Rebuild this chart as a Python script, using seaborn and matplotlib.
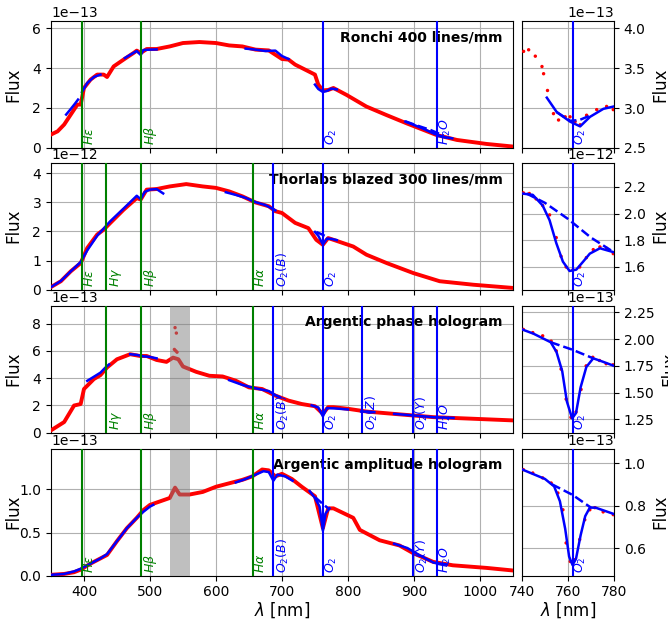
import numpy as np
import matplotlib
matplotlib.use("Agg")
import matplotlib.pyplot as plt
import matplotlib.transforms as mtransforms
import seaborn as sns

# line positions [nm] and their labels
line_nm = {'He': 397, 'Hg': 434, 'Hb': 486, 'Ha': 656, 'O2B': 687, 'O2': 762,
           'O2Z': 822, 'O2Y': 898, 'H2O': 935}
line_lbl = {'He': r'$H\varepsilon$', 'Hg': r'$H\gamma$', 'Hb': r'$H\beta$', 'Ha': r'$H\alpha$',
            'O2B': r'$O_2(B)$', 'O2': r'$O_2$', 'O2Z': r'$O_2(Z)$', 'O2Y': r'$O_2(Y)$', 'H2O': r'$H_2O$'}
line_col = {'He': 'green', 'Hg': 'green', 'Hb': 'green', 'Ha': 'green'}

titles = ['Ronchi 400 lines/mm', 'Thorlabs blazed 300 lines/mm',
          'Argentic phase hologram', 'Argentic amplitude hologram']
scales = [1e-13, 1e-12, 1e-13, 1e-13]
row_lines = [['He', 'Hb', 'O2', 'H2O'],
             ['He', 'Hg', 'Hb', 'Ha', 'O2B', 'O2'],
             ['Hg', 'Hb', 'Ha', 'O2B', 'O2', 'O2Z', 'O2Y', 'H2O'],
             ['He', 'Hb', 'Ha', 'O2B', 'O2', 'O2Y', 'H2O']]
grey_band = [None, None, (530, 560), (530, 560)]

# ---- Ronchi 400 (flux in 1e-13)
ron_lam = [350, 360, 370, 380, 390, 395, 400, 410, 420, 430, 435, 445, 460, 475, 480, 486, 495,
           510, 530, 550, 575, 600, 620, 640, 660, 680, 700, 710, 720, 735, 750, 755, 762, 770,
           778, 798, 828, 858, 889, 934, 965, 1010, 1050]
ron_flux = [0.67, 0.83, 1.17, 1.67, 2.17, 2.17, 3.0, 3.42, 3.67, 3.67, 3.55, 4.08, 4.42, 4.75,
            4.87, 4.75, 4.95, 4.95, 5.08, 5.25, 5.3, 5.25, 5.13, 5.08, 4.92, 4.88, 4.45, 4.42,
            4.17, 3.92, 3.67, 3.17, 2.88, 2.9, 3.0, 2.65, 2.07, 1.65, 1.23, 0.65, 0.4, 0.2, 0.07]
ron_fit = [([373, 380, 386, 391], [1.67, 1.95, 2.2, 2.42]),
           ([397, 405, 415, 425], [2.8, 3.25, 3.55, 3.67]),
           ([462, 472, 480, 486, 490, 500, 510], [4.5, 4.7, 4.85, 4.65, 4.9, 4.92, 4.93]),
           ([645, 660, 675, 690, 700, 710], [4.97, 4.92, 4.85, 4.87, 4.6, 4.45]),
           ([750, 755, 762, 768, 775, 783], [3.17, 2.95, 2.8, 2.85, 2.97, 2.93]),
           ([887, 900, 915, 930, 945, 958], [1.32, 1.15, 0.95, 0.72, 0.55, 0.48])]
ron_cont = [([887, 905, 925, 945], [1.33, 1.12, 0.9, 0.62])]
ron_zlam = [740.7, 742.9, 745.8, 748.7, 749.4, 751.1, 753.7, 755.9, 758.8, 760.9, 763.1, 765.3,
            768.1, 772.5, 776.8, 779.7]
ron_zflux = [3.71, 3.73, 3.65, 3.52, 3.43, 3.22, 2.93, 2.85, 2.89, 2.89, 2.83, 2.79, 2.91, 2.98,
             3.02, 2.98]
ron_zfit = ([750.8, 755.1, 760.9, 765.3, 769.6, 775.4, 780], [3.13, 2.95, 2.83, 2.77, 2.89, 2.99, 3.02])
ron_zcont = ([755, 761, 765, 770], [2.95, 2.84, 2.85, 2.91])

# ---- Thorlabs blazed 300 (flux in 1e-12)
tho_lam = [350, 365, 380, 395, 405, 420, 430, 440, 460, 480, 486, 495, 510, 530, 555, 580, 600,
           620, 640, 660, 680, 690, 700, 720, 740, 752, 762, 770, 778, 808, 828, 859, 899, 939,
           990, 1050]
tho_flux = [0.09, 0.29, 0.63, 0.91, 1.43, 1.89, 2.06, 2.29, 2.74, 3.14, 3.09, 3.43, 3.45, 3.54,
            3.62, 3.54, 3.49, 3.37, 3.2, 2.99, 2.86, 2.69, 2.63, 2.29, 2.11, 1.71, 1.54, 1.77,
            1.71, 1.48, 1.2, 0.91, 0.57, 0.29, 0.17, 0.06]
tho_fit = [([350, 365, 380, 395, 405, 420, 432, 440, 460, 480, 486, 492, 500, 510, 520],
            [0.09, 0.3, 0.63, 0.95, 1.35, 1.85, 2.15, 2.35, 2.78, 3.22, 3.1, 3.35, 3.43, 3.45, 3.3]),
           ([615, 630, 645, 660, 675, 690], [3.34, 3.25, 3.15, 3.0, 2.9, 2.72]),
           ([750, 755, 762, 768, 775, 783], [1.98, 1.85, 1.55, 1.75, 1.74, 1.7])]
tho_cont = [([752, 762, 770], [1.98, 1.88, 1.78])]
tho_zlam = [740.6, 743.2, 746.1, 749, 752, 754.9, 757, 759.2, 762.2, 765.1, 768, 771, 773.9,
            776.8, 779.7]
tho_zflux = [2.155, 2.15, 2.11, 2.06, 1.99, 1.82, 1.68, 1.6, 1.58, 1.6, 1.67, 1.73, 1.75, 1.74, 1.70]
tho_zfit = ([740, 744.7, 749, 752, 754.9, 757.8, 760.7, 763.6, 766.6, 769.5, 773.9, 780],
            [2.15, 2.14, 2.06, 1.95, 1.78, 1.64, 1.57, 1.58, 1.64, 1.7, 1.74, 1.71])
tho_zcont = ([742, 750, 760, 770, 780], [2.15, 2.08, 1.96, 1.82, 1.71])

# ---- Argentic phase hologram (flux in 1e-13)
pha_lam = [350, 370, 385, 395, 400, 415, 425, 435, 450, 470, 485, 495, 510, 525, 535, 543, 550,
           570, 590, 610, 630, 650, 670, 690, 710, 730, 750, 762, 770, 778, 800, 828, 869, 929,
           990, 1050]
pha_flux = [0.17, 0.78, 1.99, 2.1, 3.2, 3.93, 4.22, 4.78, 5.38, 5.75, 5.62, 5.62, 5.33, 5.19, 5.5,
            5.38, 4.85, 4.46, 4.17, 4.12, 3.81, 3.32, 3.2, 2.72, 2.35, 2.1, 1.94, 1.38, 1.87, 1.87,
            1.75, 1.55, 1.38, 1.14, 1.02, 0.9]
pha_spike_lam = [537, 538, 539, 540, 541]
pha_spike_flux = [6.1, 7.7, 6.0, 7.3, 5.9]
pha_fit = [([405, 415, 425, 432, 438], [3.8, 4.1, 4.4, 4.75, 5.0]),
           ([470, 480, 490, 500, 510], [5.75, 5.7, 5.6, 5.55, 5.45]),
           ([620, 640, 660, 680, 690, 697], [3.85, 3.5, 3.25, 3.05, 2.75, 2.6]),
           ([745, 755, 762, 768, 780, 800], [2.0, 1.85, 1.2, 1.8, 1.78, 1.7]),
           ([820, 830, 840], [1.55, 1.55, 1.5]),
           ([870, 890, 910, 930, 950, 960], [1.38, 1.3, 1.22, 1.13, 1.1, 1.08])]
pha_cont = []
pha_zlam = [740.6, 744.7, 749, 752.7, 754.9, 757, 759.2, 761.3, 763.5, 765.7, 767.9, 770.8, 773.7,
            776.6, 779.6]
pha_zflux = [2.09, 2.06, 2.03, 1.98, 1.89, 1.72, 1.44, 1.27, 1.32, 1.53, 1.75, 1.83, 1.80, 1.77, 1.76]
pha_zfit = ([740, 745, 752.5, 755, 757.5, 759.5, 761.8, 763.5, 765.5, 768, 771, 775, 780],
            [2.09, 2.05, 1.97, 1.88, 1.7, 1.42, 1.26, 1.31, 1.55, 1.74, 1.82, 1.79, 1.75])
pha_zcont = ([752.5, 762, 771], [1.97, 1.9, 1.82])

# ---- Argentic amplitude hologram (flux in 1e-13)
amp_lam = [350, 370, 385, 395, 410, 425, 435, 450, 465, 480, 490, 500, 515, 530, 538, 545, 560,
           580, 600, 620, 640, 655, 670, 680, 690, 700, 715, 730, 750, 762, 770, 778, 808, 818,
           848, 878, 899, 929, 959, 1010, 1050]
amp_flux = [0.01, 0.02, 0.04, 0.07, 0.14, 0.2, 0.24, 0.4, 0.55, 0.67, 0.76, 0.82, 0.86, 0.9, 1.02,
            0.94, 0.94, 0.97, 1.03, 1.07, 1.11, 1.15, 1.23, 1.22, 1.15, 1.18, 1.12, 1.03, 0.92,
            0.55, 0.78, 0.78, 0.67, 0.53, 0.41, 0.35, 0.26, 0.16, 0.12, 0.09, 0.06]
amp_fit = [([350, 370, 385, 395, 410, 425, 435, 450, 465, 480, 490, 500, 505],
            [0.01, 0.02, 0.05, 0.08, 0.14, 0.2, 0.25, 0.4, 0.55, 0.67, 0.74, 0.8, 0.82]),
           ([630, 645, 660, 672, 680, 687, 693, 705, 716],
            [1.08, 1.12, 1.17, 1.21, 1.2, 1.1, 1.17, 1.15, 1.1]),
           ([742, 750, 757, 762, 766, 772], [0.98, 0.9, 0.8, 0.52, 0.72, 0.78]),
           ([870, 890, 910, 930, 950], [0.37, 0.32, 0.23, 0.15, 0.13])]
amp_cont = [([750, 762, 770], [0.91, 0.83, 0.78])]
amp_zlam = [740.6, 744.7, 749, 752.7, 755.6, 757.8, 759.2, 761, 762.9, 765.1, 767.3, 769.5, 771.7,
            775.3, 779.7]
amp_zflux = [0.969, 0.953, 0.93, 0.906, 0.859, 0.78, 0.624, 0.537, 0.545, 0.64, 0.733, 0.78, 0.79,
             0.77, 0.757]
amp_zfit = ([740, 750, 754, 756.5, 758.8, 760.5, 762, 763.5, 765.5, 767.5, 769.5, 772, 780],
            [0.97, 0.925, 0.89, 0.82, 0.69, 0.56, 0.52, 0.55, 0.66, 0.75, 0.79, 0.79, 0.76])
amp_zcont = ([753, 762, 770], [0.9, 0.85, 0.79])

rows = [(ron_lam, ron_flux, ron_fit, ron_cont, ron_zlam, ron_zflux, ron_zfit, ron_zcont),
        (tho_lam, tho_flux, tho_fit, tho_cont, tho_zlam, tho_zflux, tho_zfit, tho_zcont),
        (pha_lam, pha_flux, pha_fit, pha_cont, pha_zlam, pha_zflux, pha_zfit, pha_zcont),
        (amp_lam, amp_flux, amp_fit, amp_cont, amp_zlam, amp_zflux, amp_zfit, amp_zcont)]

ylims = [(0, 6.35), (0, 4.35), (0, 9.3), (0, 1.47)]
yticks = [[0, 2, 4, 6], [0, 1, 2, 3, 4], [0, 2, 4, 6, 8], [0.0, 0.5, 1.0]]
zylims = [(2.5, 4.09), (1.43, 2.38), (1.127, 2.31), (0.47, 1.067)]
zyticks = [[2.5, 3.0, 3.5, 4.0], [1.6, 1.8, 2.0, 2.2], [1.25, 1.5, 1.75, 2.0, 2.25], [0.6, 0.8, 1.0]]

plt.rcParams['font.size'] = 10
fig = plt.figure(figsize=(6.68, 6.19), dpi=100)
tops = [0.966, 0.737, 0.506, 0.275]
h = 0.205

for i, (lam, flux, fits, conts, zlam, zflux, zfit, zcont) in enumerate(rows):
    s = scales[i]
    ax = fig.add_axes([0.0763, tops[i] - h, 0.6916, h])
    axz = fig.add_axes([0.7814, tops[i] - h, 0.1377, h])

    # left panel
    sns.lineplot(x=lam, y=np.array(flux) * s, ax=ax, color='red', lw=2.8, zorder=3)
    if i == 2:
        sns.scatterplot(x=pha_spike_lam, y=np.array(pha_spike_flux) * s, ax=ax, color='red',
                        s=6, edgecolor='none', zorder=3)
    for fl, ff in fits:
        sns.lineplot(x=fl, y=np.array(ff) * s, ax=ax, color='blue', lw=1.8, zorder=4)
    for cl, cf in conts:
        ax.plot(cl, np.array(cf) * s, color='blue', lw=1.8, ls='--', zorder=4)
    if grey_band[i] is not None:
        ax.axvspan(*grey_band[i], color='grey', alpha=0.5, lw=0, zorder=5)
    trans = mtransforms.blended_transform_factory(ax.transData, ax.transAxes)
    for key in row_lines[i]:
        c = line_col.get(key, 'blue')
        ax.axvline(line_nm[key], color=c, lw=1.5, zorder=4)
        ax.text(line_nm[key] + 2, 0.02, line_lbl[key], color=c, rotation=90, fontsize=9,
                ha='left', va='bottom', transform=trans, zorder=4)
    ax.text(0.978, 0.87, titles[i], transform=ax.transAxes, ha='right', va='center',
            fontsize=10, fontweight='bold', zorder=2)
    ax.set_xlim(350, 1050)
    ax.set_ylim(ylims[i][0] * s, ylims[i][1] * s)
    ax.set_yticks(np.array(yticks[i]) * s)
    ax.set_xticks([400, 500, 600, 700, 800, 900, 1000])
    ax.grid(True)
    ax.set_ylabel('Flux', fontsize=12)
    ax.yaxis.set_label_coords(-0.062, 0.5)

    # zoom panel
    sns.scatterplot(x=zlam, y=np.array(zflux) * s, ax=axz, color='red', s=6,
                    edgecolor='none', zorder=3)
    sns.lineplot(x=zfit[0], y=np.array(zfit[1]) * s, ax=axz, color='blue', lw=1.8, zorder=4)
    axz.plot(zcont[0], np.array(zcont[1]) * s, color='blue', lw=1.8, ls='--', zorder=4)
    axz.axvline(line_nm['O2'], color='blue', lw=1.5, zorder=4)
    transz = mtransforms.blended_transform_factory(axz.transData, axz.transAxes)
    axz.text(line_nm['O2'] + 0.3, 0.02, line_lbl['O2'], color='blue', rotation=90, fontsize=9,
             ha='left', va='bottom', transform=transz, zorder=4)
    axz.set_xlim(740, 780)
    axz.set_ylim(zylims[i][0] * s, zylims[i][1] * s)
    axz.set_yticks(np.array(zyticks[i]) * s)
    axz.set_xticks([740, 760, 780])
    axz.yaxis.tick_right()
    axz.yaxis.set_label_position('right')
    axz.grid(True)
    axz.set_ylabel('Flux', fontsize=12)

    if i < 3:
        ax.tick_params(labelbottom=False)
        axz.tick_params(labelbottom=False)
    else:
        ax.set_xlabel(r'$\lambda$ [nm]', fontsize=12, labelpad=1)
        axz.set_xlabel(r'$\lambda$ [nm]', fontsize=12, labelpad=1)

fig.savefig('out.png', dpi=100)
